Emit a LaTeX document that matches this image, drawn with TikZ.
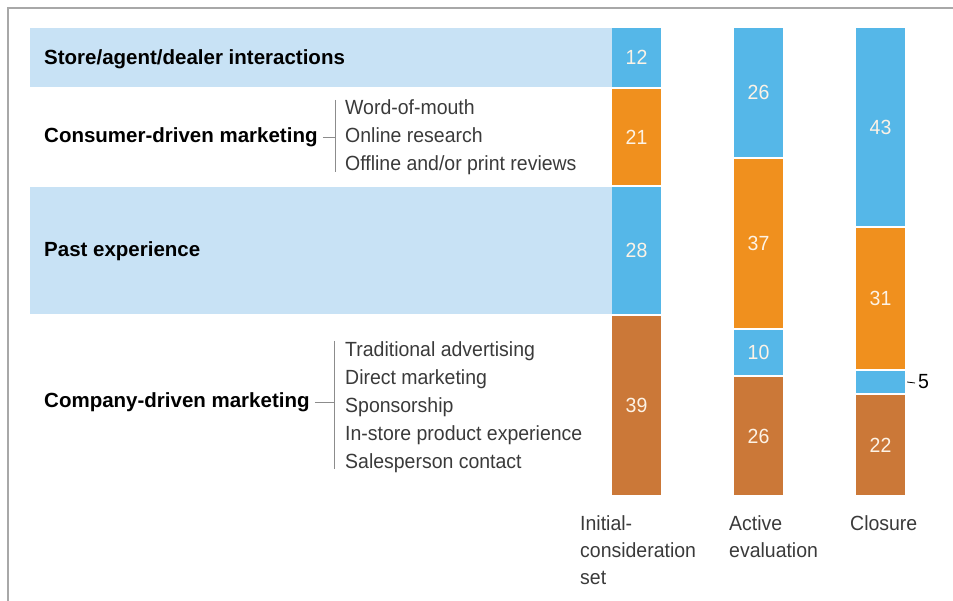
\documentclass[tikz,border=0pt]{standalone}
\usepackage{fontspec}
\setmainfont{Liberation Sans}
\newfontfamily\narrowsans{Liberation Sans}[FakeStretch=0.95]
\definecolor{bandblue}{HTML}{C8E2F5}
\definecolor{barblue}{HTML}{55B7E8}
\definecolor{barorange}{HTML}{F0901E}
\definecolor{barbrown}{HTML}{CB7838}
\definecolor{itemgray}{HTML}{3A3A3A}
\definecolor{numcream}{HTML}{FDF3E6}
\definecolor{rulegray}{HTML}{8C8C8C}
\definecolor{framegray}{HTML}{A8A8A8}
\newcommand{\txtsize}{\fontsize{20.5}{27}\selectfont}
\begin{document}
\begin{tikzpicture}[x=1pt,y=-1pt,
  seg/.style={rectangle, inner sep=0pt, minimum width=49pt, text=numcream, font=\narrowsans\txtsize},
  band/.style={rectangle, inner sep=0pt, fill=bandblue, minimum width=582pt},
  cat/.style={anchor=west, inner sep=0pt, font=\txtsize\bfseries, text height=15pt, text depth=4pt},
  item/.style={anchor=west, inner sep=0pt, text=itemgray, font=\narrowsans\txtsize, text height=15pt, text depth=4pt},
  stage/.style={anchor=north west, align=left, inner sep=0pt, text=itemgray, font=\narrowsans\txtsize},
  brk/.style={draw=rulegray, line width=0.9pt}]
\useasboundingbox (0,0) rectangle (953,601);
\path[draw=framegray,line width=2pt] (953,8) -- (8,8) -- (8,601);

% light bands
\node[band, minimum height=59pt] (storeband) at (321,57.5) {};
\node[band, minimum height=127pt] (pastband) at (321,250.5) {};

% initial-consideration set
\node[seg, fill=barblue, minimum height=59pt] (i1) at (636.5,57.5) {12};
\node[seg, fill=barorange, minimum height=96pt] (i2) at (636.5,137) {21};
\node[seg, fill=barblue, minimum height=127pt] (i3) at (636.5,250.5) {28};
\node[seg, fill=barbrown, minimum height=179pt] (i4) at (636.5,405.5) {39};
% active evaluation
\node[seg, fill=barblue, minimum height=129pt] (a1) at (758.5,92.5) {26};
\node[seg, fill=barorange, minimum height=169pt] (a2) at (758.5,243.5) {37};
\node[seg, fill=barblue, minimum height=45pt] (a3) at (758.5,352.5) {10};
\node[seg, fill=barbrown, minimum height=118pt] (a4) at (758.5,436) {26};
% closure
\node[seg, fill=barblue, minimum height=198pt] (c1) at (880.5,127) {43};
\node[seg, fill=barorange, minimum height=141pt] (c2) at (880.5,298.5) {31};
\node[seg, fill=barblue, minimum height=22pt] (c3) at (880.5,382) {};
\node[seg, fill=barbrown, minimum height=100pt] (c4) at (880.5,445) {22};
\node[item, text=black] (five) at (918,383) {5};
\path[draw=black,line width=0.8pt] ([xshift=2pt]c3.east) -- ([xshift=-3pt]five.west);

% categories
\node[cat] (store) at (44,59) {Store/agent/dealer interactions};
\node[cat] (consumer) at (44,137) {Consumer-driven marketing};
\node[cat] (past) at (44,251) {Past experience};
\node[cat] (company) at (44,402) {Company-driven marketing};

% consumer-driven items
\coordinate (ctop) at (335,100);
\coordinate (cbot) at (335,172);
\coordinate (cmid) at (335,137);
\path[brk] (ctop) -- (cbot);
\path[brk] ([xshift=5pt]consumer.east) -- (cmid);
\node[item] (wom) at (345,109) {Word-of-mouth};
\node[item] (online) at (345,137) {Online research};
\node[item] (offline) at (345,165) {Offline and/or print reviews};

% company-driven items
\coordinate (ktop) at (334,341);
\coordinate (kbot) at (334,469);
\coordinate (kmid) at (334,402);
\path[brk] (ktop) -- (kbot);
\path[brk] ([xshift=5pt]company.east) -- (kmid);
\node[item] (trad) at (345,351) {Traditional advertising};
\node[item] (direct) at (345,379) {Direct marketing};
\node[item] (spons) at (345,407) {Sponsorship};
\node[item] (instore) at (345,435) {In-store product experience};
\node[item] (sales) at (345,463) {Salesperson contact};

% stages
\node[stage] (initial) at (580,515) {Initial-\\consideration\\set};
\node[stage] (active) at (729,515) {Active\\evaluation};
\node[stage] (closure) at (850,515) {Closure};
\end{tikzpicture}
\end{document}
